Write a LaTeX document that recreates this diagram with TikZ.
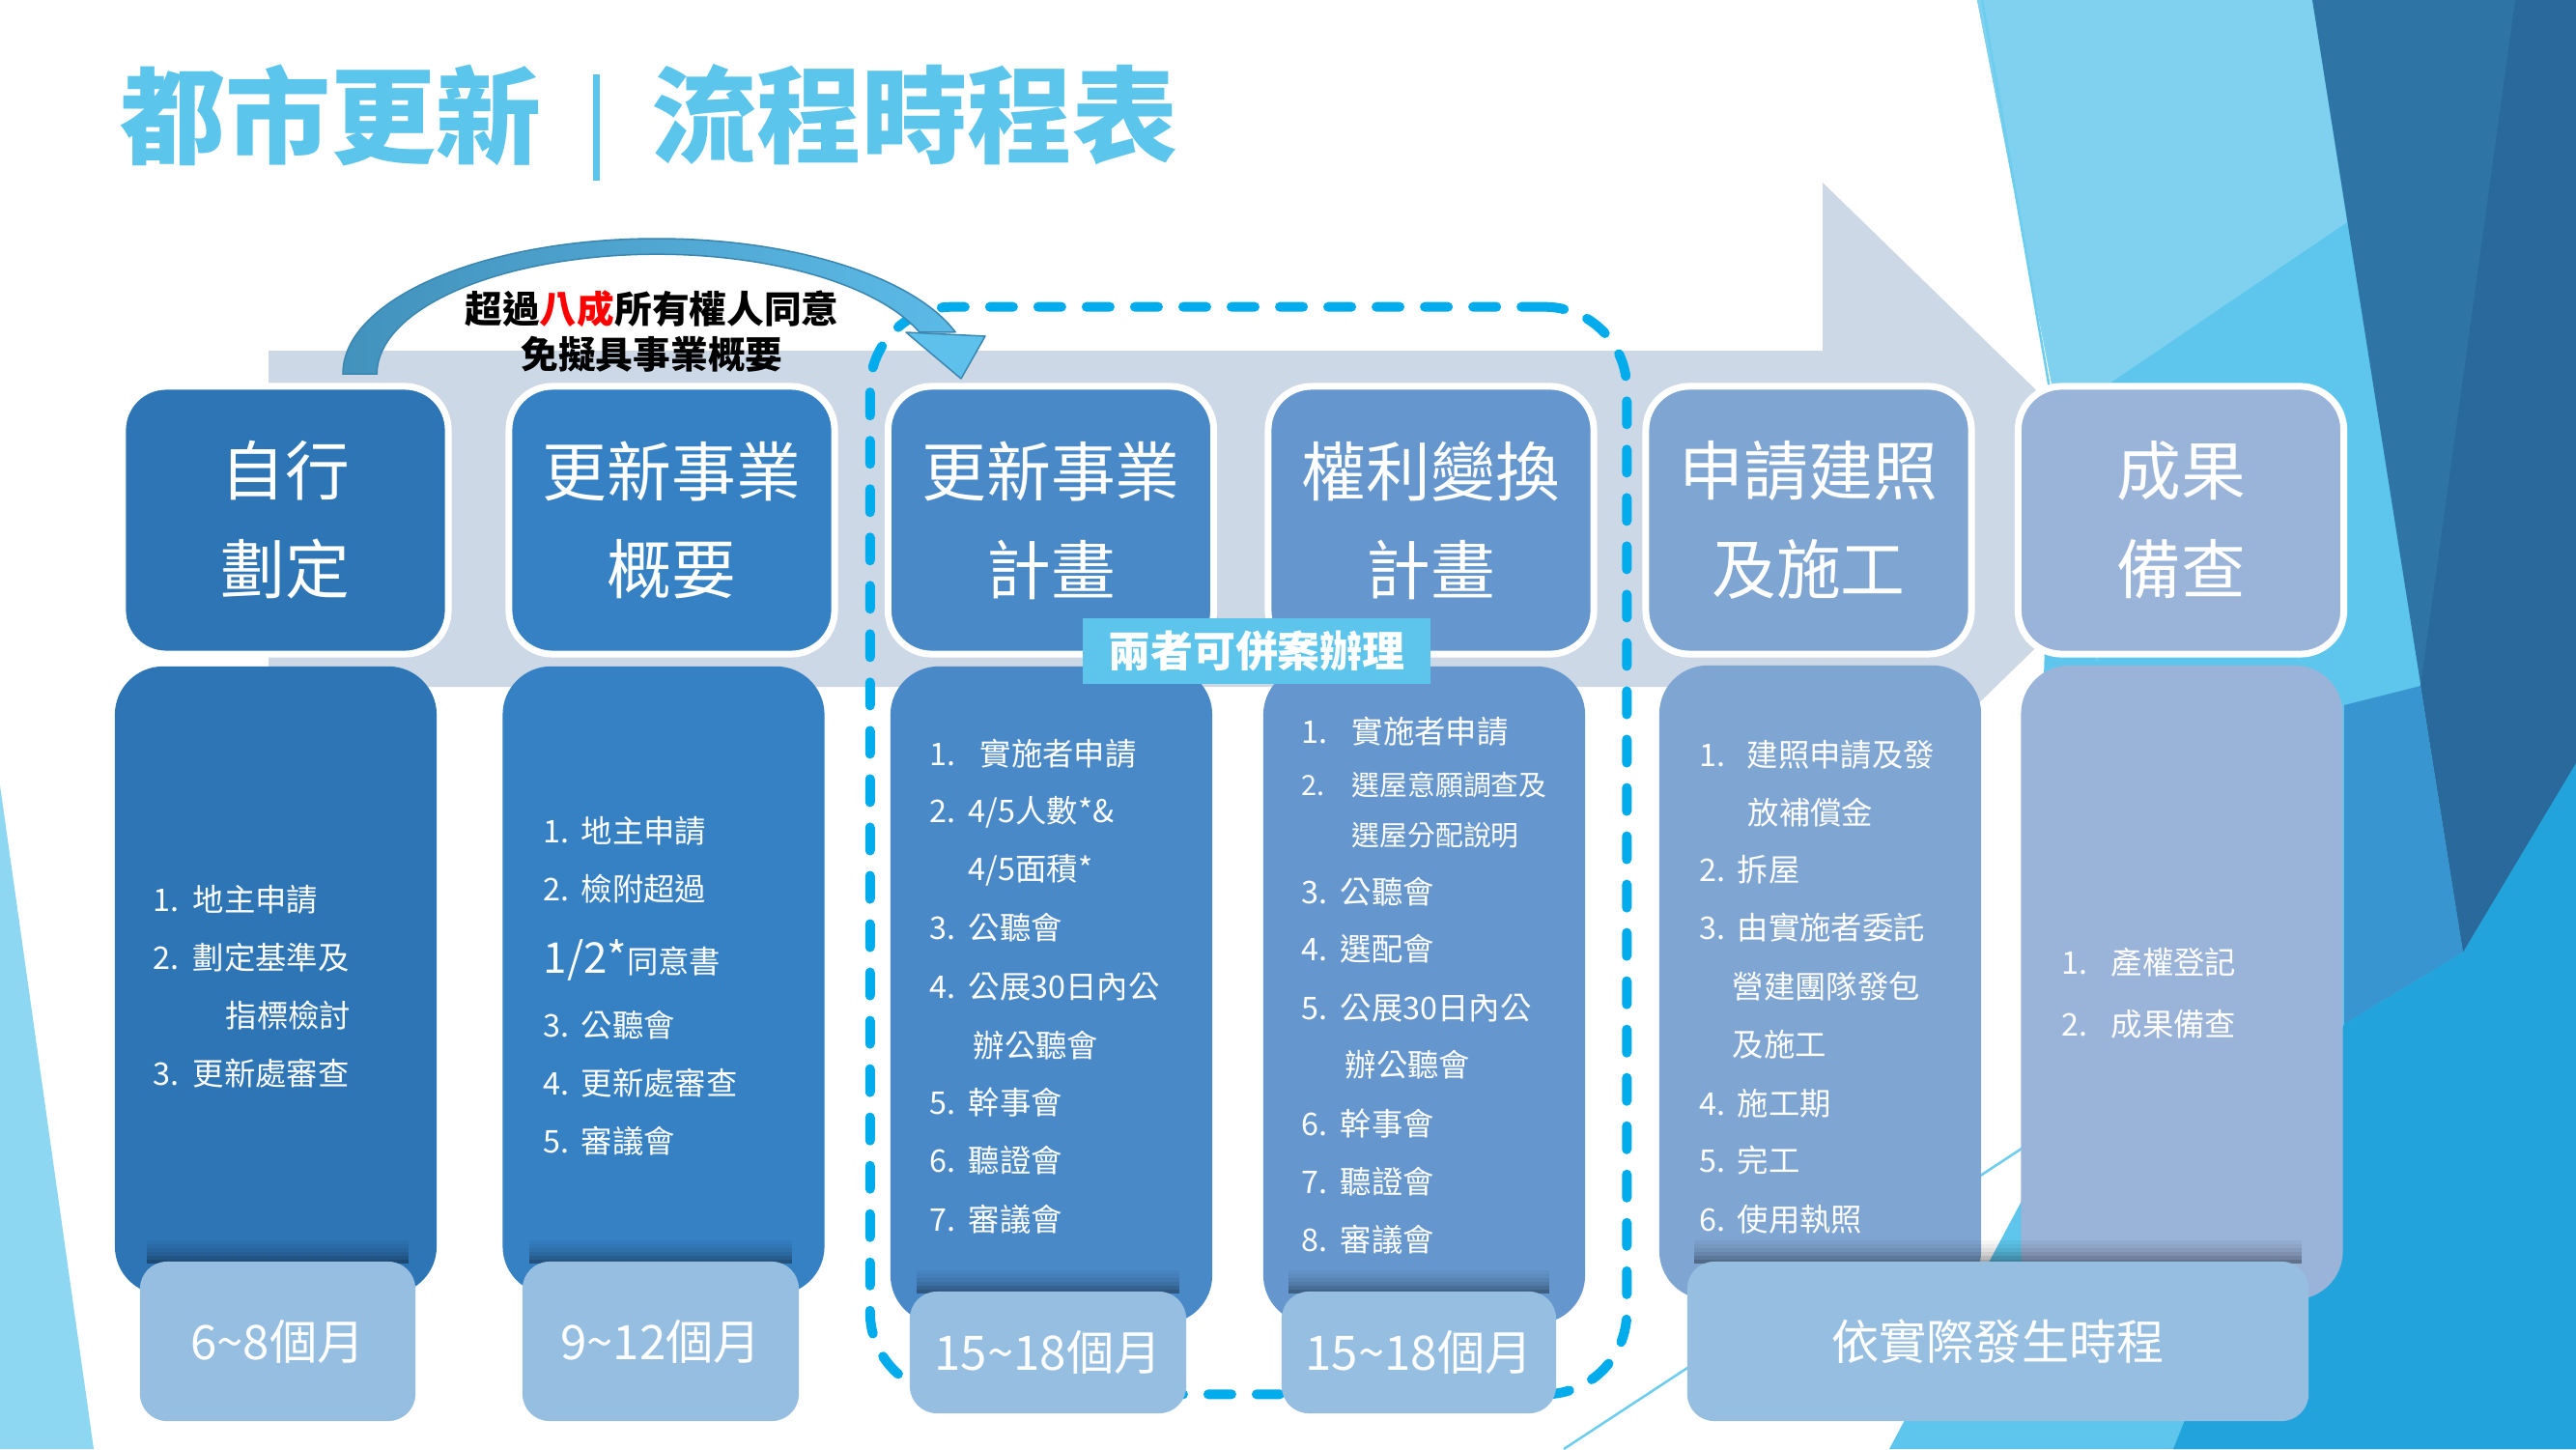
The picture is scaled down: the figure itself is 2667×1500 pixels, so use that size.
\documentclass[tikz,border=0pt]{standalone}
\usepackage{fontspec}
\setmainfont{Noto Sans CJK TC}
\usetikzlibrary{arrows.meta}
\definecolor{c1}{RGB}{46,117,182}
\definecolor{c2}{RGB}{54,129,196}
\definecolor{c3}{RGB}{74,137,200}
\definecolor{c4}{RGB}{101,151,206}
\definecolor{c5}{RGB}{127,165,210}
\definecolor{c6}{RGB}{154,179,216}
\definecolor{durc}{RGB}{150,190,224}
\definecolor{bandc}{RGB}{205,216,231}
\definecolor{titlec}{RGB}{91,197,236}
\definecolor{dashc}{RGB}{0,172,236}
\definecolor{lblc}{RGB}{93,197,236}
\definecolor{arrL}{RGB}{66,146,188}
\definecolor{arrR}{RGB}{92,186,230}
\definecolor{arrE}{RGB}{58,134,176}
\definecolor{arrH}{RGB}{94,193,236}
\definecolor{decoLL}{RGB}{141,215,242}
\definecolor{decoC}{RGB}{94,198,236}
\definecolor{decoL}{RGB}{128,208,239}
\definecolor{decoD}{RGB}{46,117,166}
\definecolor{decoDD}{RGB}{42,105,156}
\definecolor{decoM}{RGB}{56,149,207}
\definecolor{decoB}{RGB}{34,163,219}
\definecolor{decoLine}{RGB}{108,205,239}
\newcommand{\durshadow}[3]{%
  \foreach \i/\o in {0/0.04,1/0.08,2/0.13,3/0.19,4/0.27,5/0.36}{%
    \fill[black,opacity=\o] (#1,{#3-24+4*\i}) rectangle (#2,{#3-20+4*\i});}}
\begin{document}
\begin{tikzpicture}[x=0.01cm,y=-0.01cm,
  hdr/.style={draw=white,line width=0.07cm,rounded corners=0.45cm,minimum width=3.37cm,minimum height=2.77cm,text=white,align=center,inner sep=0pt,font=\fontsize{19}{29}\selectfont},
  low/.style={rounded corners=0.5cm,minimum width=3.33cm,inner sep=0pt},
  dur/.style={fill=durc,rounded corners=0.28cm,inner sep=0pt,text=white,font=\fontsize{14}{17}\selectfont},
  lt/.style={text=white,inner sep=0pt,anchor=west,text height=8pt,text depth=2pt,font=\fontsize{9.2}{11}\selectfont},
  lts/.style={lt,font=\fontsize{8.2}{10}\selectfont,text height=7pt,text depth=2pt},
  ttl/.style={text=titlec,inner sep=0pt,anchor=west,font=\fontsize{31}{36}\selectfont\bfseries},
  decoline/.style={draw=decoLine,line width=0.025cm}
]
\useasboundingbox (0,0) rectangle (2667,1500);
\fill[white] (0,0) rectangle (2667,1500);
% background decoration
\fill[decoLL] (0,813) -- (97,1500) -- (0,1500) -- cycle;
\fill[decoC] (2047,0) -- (2667,0) -- (2667,1500) -- (1956,1500) -- (2100,1230) -- (2125,402) -- cycle;
\fill[decoL] (2047,0) -- (2394,0) -- (2430,230) -- (2150,420) -- (2125,402) -- cycle;
\fill[decoD] (2394,0) -- (2667,0) -- (2667,790) -- (2550,986) -- cycle;
\fill[decoDD] (2604,0) -- (2667,0) -- (2667,790) -- (2550,986) -- (2506,710) -- cycle;
\fill[decoM] (2427,730) -- (2506,710) -- (2550,986) -- (2427,1060) -- cycle;
\fill[decoB] (2427,1060) -- (2550,986) -- (2667,790) -- (2667,1500) -- (2250,1500) -- cycle;
\draw[decoline] (2052,0) -- (2171,684);
\draw[decoline] (1619,1500) -- (2096,1187);
% big arrow band
\fill[bandc] (278,363) -- (1887,363) -- (1887,189) -- (2245,537) -- (1887,885) -- (1887,711) -- (278,711) -- cycle;
% title
\node[ttl] (t1) at (124,119) {都市更新};
\draw[titlec,line width=0.07cm] (617,77) -- (617,187);
\node[ttl] (t2) at (674,119) {流程時程表};
% header boxes
\node[hdr,fill=c1] (h1) at (295.5,538.5) {自行\\劃定};
\node[hdr,fill=c2] (h2) at (695.5,538.5) {更新事業\\概要};
\node[hdr,fill=c3] (h3) at (1088,538.5) {更新事業\\計畫};
\node[hdr,fill=c4] (h4) at (1481.5,538.5) {權利變換\\計畫};
\node[hdr,fill=c5] (h5) at (1872.5,538.5) {申請建照\\及施工};
\node[hdr,fill=c6] (h6) at (2258,538.5) {成果\\備查};
% lower boxes
\node[low,fill=c1,minimum height=6.5cm] (l1) at (285.5,1015) {};
\node[low,fill=c2,minimum height=6.5cm] (l2) at (687,1015) {};
\node[low,fill=c3,minimum height=6.8cm] (l3) at (1088.5,1030) {};
\node[low,fill=c4,minimum height=6.8cm] (l4) at (1474.5,1030) {};
\node[low,fill=c5,minimum height=6.56cm] (l5) at (1884.5,1017) {};
\node[low,fill=c6,minimum height=6.56cm] (l6) at (2259,1017) {};
% shadows above duration boxes
\durshadow{152}{423}{1308}
\durshadow{548}{820}{1308}
\durshadow{949}{1221}{1339}
\durshadow{1334}{1604}{1339}
\durshadow{1754}{2383}{1308}
% dashed group
\node[draw=dashc,line width=0.1cm,line cap=round,dash pattern=on 0.24cm off 0.26cm,rounded corners=0.85cm,minimum width=7.83cm,minimum height=11.25cm,inner sep=0pt] (grp) at (1292.5,880.5) {};
% duration boxes
\node[dur,minimum width=2.85cm,minimum height=1.65cm] (d1) at (287.5,1388.5) {6\textasciitilde 8個月};
\node[dur,minimum width=2.86cm,minimum height=1.65cm] (d2) at (684,1388.5) {9\textasciitilde 12個月};
\node[dur,minimum width=2.86cm,minimum height=1.26cm] (d3) at (1085,1400) {15\textasciitilde 18個月};
\node[dur,minimum width=2.84cm,minimum height=1.26cm] (d4) at (1469,1400) {15\textasciitilde 18個月};
\node[dur,minimum width=6.43cm,minimum height=1.65cm] (d5) at (2068.5,1388.5) {依實際發生時程};
% curved arrow from h1 over h2 to h3
\coordinate (aS) at (355,387);
\path[left color=arrL,right color=arrR,draw=arrE,line width=0.015cm] (aS) arc[start angle=180,end angle=342,x radius=325,y radius=140] -- (952,344) arc[start angle=339.6,end angle=180,x radius=290,y radius=124] -- cycle;
\coordinate (aW1) at (938,344);
\coordinate (aW2) at (1020,348);
\coordinate (aT) at (995,392);
\filldraw[fill=arrH,draw=arrE,line width=0.015cm,line join=round] (aW1) -- (aW2) -- (aT) -- cycle;
\node[align=center,inner sep=0pt,font=\fontsize{11}{13.4}\selectfont\bfseries] (skip) at (675,343) {超過\textcolor{red}{八成}所有權人同意\\免擬具事業概要};
% merge label
\node[fill=lblc,minimum width=3.6cm,minimum height=0.68cm,inner sep=0pt,text=white,font=\fontsize{12.5}{15}\selectfont\bfseries] (merge) at (1301,674) {兩者可併案辦理};
% box 1 text
\node[lt] (b1n1) at (158,933) {1.}; \node[lt] (b1t1) at (199,933) {地主申請};
\node[lt] (b1n2) at (158,993) {2.}; \node[lt] (b1t2) at (199,993) {劃定基準及};
\node[lt] (b1t2b) at (233,1053) {指標檢討};
\node[lt] (b1n3) at (158,1113) {3.}; \node[lt] (b1t3) at (199,1113) {更新處審查};
% box 2 text
\node[lt] (b2n1) at (562,862) {1.}; \node[lt] (b2t1) at (601,862) {地主申請};
\node[lt] (b2n2) at (562,922) {2.}; \node[lt] (b2t2) at (601,922) {檢附超過};
\node[lt] (b2t2b) at (562,997) {{\fontsize{12.5}{14}\selectfont 1/2*}同意書};
\node[lt] (b2n3) at (562,1063) {3.}; \node[lt] (b2t3) at (601,1063) {公聽會};
\node[lt] (b2n4) at (562,1123) {4.}; \node[lt] (b2t4) at (601,1123) {更新處審查};
\node[lt] (b2n5) at (562,1183) {5.}; \node[lt] (b2t5) at (601,1183) {審議會};
% box 3 text
\node[lt] (b3n1) at (962,782) {1.}; \node[lt] (b3t1) at (1014,782) {實施者申請};
\node[lt] (b3n2) at (962,841) {2.}; \node[lt] (b3t2) at (1002,841) {4/5人數*\&};
\node[lt] (b3t2b) at (1002,901) {4/5面積*};
\node[lt] (b3n3) at (962,962) {3.}; \node[lt] (b3t3) at (1002,962) {公聽會};
\node[lt] (b3n4) at (962,1023) {4.}; \node[lt] (b3t4) at (1002,1023) {公展30日內公};
\node[lt] (b3t4b) at (1007,1084) {辦公聽會};
\node[lt] (b3n5) at (962,1143) {5.}; \node[lt] (b3t5) at (1002,1143) {幹事會};
\node[lt] (b3n6) at (962,1203) {6.}; \node[lt] (b3t6) at (1002,1203) {聽證會};
\node[lt] (b3n7) at (962,1264) {7.}; \node[lt] (b3t7) at (1002,1264) {審議會};
% box 4 text
\node[lt] (b4n1) at (1347,759) {1.}; \node[lt] (b4t1) at (1399,759) {實施者申請};
\node[lts] (b4n2) at (1347,815) {2.}; \node[lts] (b4t2) at (1399,815) {選屋意願調查及};
\node[lts] (b4t2b) at (1399,867) {選屋分配說明};
\node[lt] (b4n3) at (1347,925) {3.}; \node[lt] (b4t3) at (1387,925) {公聽會};
\node[lt] (b4n4) at (1347,984) {4.}; \node[lt] (b4t4) at (1387,984) {選配會};
\node[lt] (b4n5) at (1347,1045) {5.}; \node[lt] (b4t5) at (1387,1045) {公展30日內公};
\node[lt] (b4t5b) at (1392,1104) {辦公聽會};
\node[lt] (b4n6) at (1347,1165) {6.}; \node[lt] (b4t6) at (1387,1165) {幹事會};
\node[lt] (b4n7) at (1347,1225) {7.}; \node[lt] (b4t7) at (1387,1225) {聽證會};
\node[lt] (b4n8) at (1347,1285) {8.}; \node[lt] (b4t8) at (1387,1285) {審議會};
% box 5 text
\node[lt] (b5n1) at (1759,783) {1.}; \node[lt] (b5t1) at (1808,783) {建照申請及發};
\node[lt] (b5t1b) at (1809,843) {放補償金};
\node[lt] (b5n2) at (1759,902) {2.}; \node[lt] (b5t2) at (1798,902) {拆屋};
\node[lt] (b5n3) at (1759,962) {3.}; \node[lt] (b5t3) at (1798,962) {由實施者委託};
\node[lt] (b5t3b) at (1793,1023) {營建團隊發包};
\node[lt] (b5t3c) at (1793,1083) {及施工};
\node[lt] (b5n4) at (1759,1144) {4.}; \node[lt] (b5t4) at (1798,1144) {施工期};
\node[lt] (b5n5) at (1759,1203) {5.}; \node[lt] (b5t5) at (1798,1203) {完工};
\node[lt] (b5n6) at (1759,1264) {6.}; \node[lt] (b5t6) at (1798,1264) {使用執照};
% box 6 text
\node[lt] (b6n1) at (2134,998) {1.}; \node[lt] (b6t1) at (2185,998) {產權登記};
\node[lt] (b6n2) at (2134,1062) {2.}; \node[lt] (b6t2) at (2185,1062) {成果備查};
\end{tikzpicture}
\end{document}
